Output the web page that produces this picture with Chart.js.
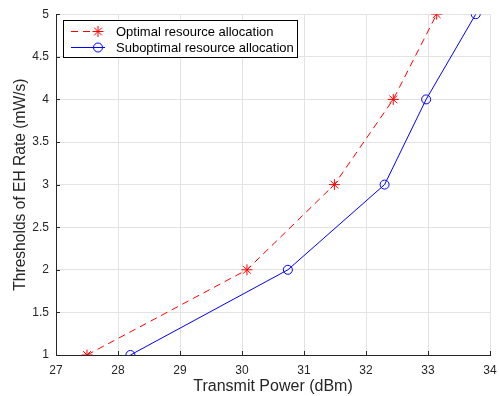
<!DOCTYPE html>
<html>
<head>
<meta charset="utf-8">
<script src="https://cdn.jsdelivr.net/npm/chart.js@4"></script>
<style>
  html, body { margin: 0; padding: 0; background: #fff; }
  #wrap { width: 499px; height: 396px; position: relative; }
</style>
</head>
<body>
<div id="wrap"><canvas id="chart"></canvas></div>
<script>
// --- data ---
var optimalPower = [27.5, 30.08, 31.49, 32.44, 33.14];     // dBm
var optimalRate = [1, 2, 3, 4, 5];                          // mW/s
var suboptimalPower = [28.2, 30.74, 32.3, 32.97, 33.77];    // dBm
var suboptimalRate = [1, 2, 3, 4, 5];                       // mW/s
var xTicks = [27, 28, 29, 30, 31, 32, 33, 34];
var yTicks = [1, 1.5, 2, 2.5, 3, 3.5, 4, 4.5, 5];
var seriesNames = ['Optimal resource allocation', 'Suboptimal resource allocation'];

var FONT = 'Liberation Sans, Arial, Helvetica, sans-serif';
var TEXT = '#262626';

function toPoints(xs, ys) {
    return xs.map(function (x, i) { return { x: x, y: ys[i] }; });
}

// MATLAB-like legend drawn in the upper-left corner of the plot
var legendBox = {
    id: 'legendBox',
    afterDraw: function (chart) {
        var ctx = chart.ctx;
        var a = chart.chartArea;
        var x0 = Math.round(a.left) + 7, y0 = Math.round(a.top) + 6, w = 234, h = 37;
        ctx.save();
        ctx.fillStyle = '#fff';
        ctx.fillRect(x0, y0, w, h);
        ctx.strokeStyle = '#000';
        ctx.lineWidth = 1;
        ctx.strokeRect(x0 + 0.5, y0 + 0.5, w, h);

        var ds = chart.data.datasets;
        for (var i = 0; i < ds.length; i++) {
            var cy = y0 + 11.5 + i * 16;
            ctx.strokeStyle = ds[i].borderColor;
            ctx.lineWidth = 1;
            ctx.setLineDash(ds[i].borderDash || []);
            ctx.beginPath();
            ctx.moveTo(x0 + 8, cy);
            ctx.lineTo(x0 + 42, cy);
            ctx.stroke();
            ctx.setLineDash([]);
            ctx.fillStyle = 'rgba(0,0,0,0)';
            Chart.helpers.drawPoint(ctx, {
                pointStyle: ds[i].pointStyle,
                radius: ds[i].pointRadius,
                borderWidth: 1
            }, x0 + 35, cy);
            ctx.fillStyle = '#000';
            ctx.font = '13px ' + FONT;
            ctx.textBaseline = 'middle';
            ctx.textAlign = 'left';
            ctx.fillText(seriesNames[i], x0 + 53, cy + 1);
        }
        ctx.restore();
    }
};

// inward tick marks like MATLAB
var innerTicks = {
    id: 'innerTicks',
    afterDatasetsDraw: function (chart) {
        var ctx = chart.ctx;
        var a = chart.chartArea;
        var xs = chart.scales.x, ys = chart.scales.y;
        ctx.save();
        ctx.strokeStyle = TEXT;
        ctx.lineWidth = 1;
        ctx.beginPath();
        xTicks.forEach(function (v) {
            var px = Math.round(xs.getPixelForValue(v)) + 0.5;
            ctx.moveTo(px, a.bottom);
            ctx.lineTo(px, a.bottom - 4);
        });
        yTicks.forEach(function (v) {
            var py = Math.round(ys.getPixelForValue(v)) + 0.5;
            ctx.moveTo(a.left, py);
            ctx.lineTo(a.left + 4, py);
        });
        ctx.stroke();
        ctx.restore();
    }
};

var config = {
    type: 'scatter',
    data: {
        datasets: [
            {
                label: seriesNames[0],
                data: toPoints(optimalPower, optimalRate),
                showLine: true,
                borderColor: '#ff0000',
                backgroundColor: 'transparent',
                borderWidth: 1,
                borderDash: [7, 5],
                pointStyle: 'star',
                pointRadius: 5.5,
                pointBorderWidth: 1,
                pointBorderColor: '#ff0000'
            },
            {
                label: seriesNames[1],
                data: toPoints(suboptimalPower, suboptimalRate),
                showLine: true,
                borderColor: '#0000ff',
                backgroundColor: 'transparent',
                borderWidth: 1,
                pointStyle: 'circle',
                pointRadius: 4.5,
                pointBorderWidth: 1,
                pointBorderColor: '#0000ff'
            }
        ]
    },
    options: {
        responsive: true,
        maintainAspectRatio: false,
        animation: false,
        layout: { padding: { top: 12, right: 9, left: 0, bottom: 0 } },
        plugins: {
            legend: { display: false },
            tooltip: { enabled: false }
        },
        scales: {
            x: {
                type: 'linear',
                min: 27, max: 34,
                afterBuildTicks: function (s) { s.ticks = xTicks.map(function (v) { return { value: v }; }); },
                afterFit: function (s) { s.height = 41; s.paddingLeft = 0; s.paddingRight = 0; },
                grid: { color: '#e3e3e3', drawTicks: false },
                border: { color: TEXT },
                ticks: { color: TEXT, padding: 8, font: { family: FONT, size: 12 }, maxRotation: 0 },
                title: { display: true, text: 'Transmit Power (dBm)', color: TEXT, padding: { top: 0, bottom: 0 },
                         font: { family: FONT, size: 16 } }
            },
            y: {
                type: 'linear',
                min: 1, max: 5,
                afterBuildTicks: function (s) { s.ticks = yTicks.map(function (v) { return { value: v }; }); },
                afterFit: function (s) { s.width = 56; },
                grid: { color: '#e3e3e3', drawTicks: false },
                border: { color: TEXT },
                ticks: { color: TEXT, padding: 7, font: { family: FONT, size: 12 },
                         callback: function (v) { return String(v); } },
                title: { display: true, text: 'Thresholds of EH Rate (mW/s)', color: TEXT, padding: { top: 11, bottom: 0 },
                         font: { family: FONT, size: 15.6 } }
            }
        }
    },
    plugins: [innerTicks, legendBox]
};

new Chart(document.getElementById('chart').getContext('2d'), config);
</script>
</body>
</html>
